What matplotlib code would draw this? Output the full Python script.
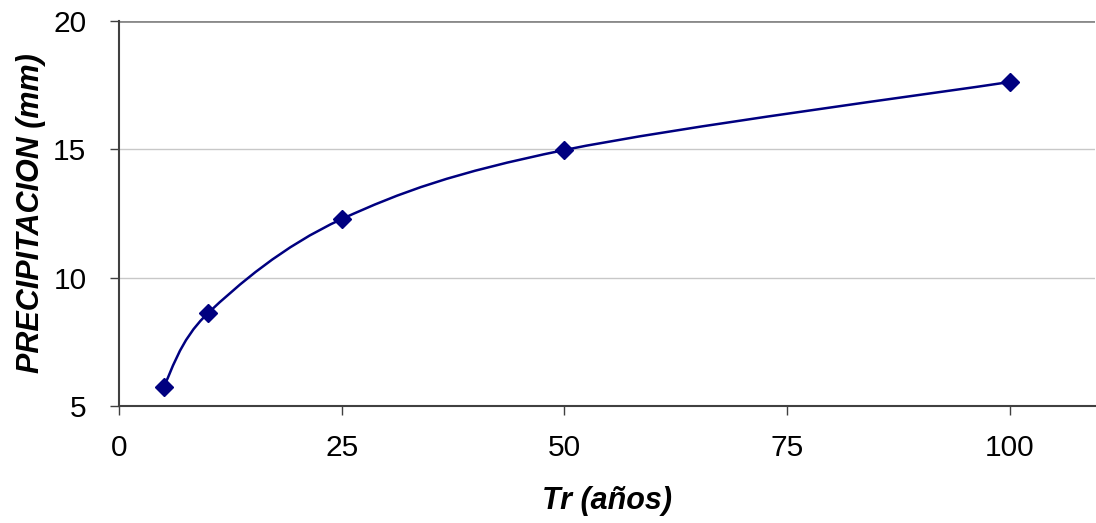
import matplotlib
matplotlib.use("Agg")
import matplotlib.pyplot as plt
from matplotlib.path import Path
import matplotlib.patches as phs

plt.rcParams['font.family'] = ['Liberation Sans', 'DejaVu Sans']

# return period (years) and precipitation (mm)
tr = [5, 10, 25, 50, 100]
precip = [5.75, 8.62, 12.28, 14.97, 17.62]
xticks = [0, 25, 50, 75, 100]
yticks = [5, 10, 15, 20]

navy = "#000080"


def smoothPath(xs, ys):
  # Excel-style smoothed line: cubic bezier segments, control points from neighbours
  n = len(xs)
  verts = [(xs[0], ys[0])]
  codes = [Path.MOVETO]
  for i in range(n - 1):
    x0, y0 = xs[max(i - 1, 0)], ys[max(i - 1, 0)]
    x1, y1 = xs[i], ys[i]
    x2, y2 = xs[i + 1], ys[i + 1]
    x3, y3 = xs[min(i + 2, n - 1)], ys[min(i + 2, n - 1)]
    c1 = (x1 + (x2 - x0) / 6.0, y1 + (y2 - y0) / 6.0)
    c2 = (x2 - (x3 - x1) / 6.0, y2 - (y3 - y1) / 6.0)
    verts += [c1, c2, (x2, y2)]
    codes += [Path.CURVE4] * 3
  return Path(verts, codes)


fig = plt.figure(figsize=(10.96, 5.23), dpi=100)
ax = fig.add_axes([0.1086, 0.2237, 0.8905, 0.7363])

ax.add_patch(phs.PathPatch(smoothPath(tr, precip), fill=False, lw=1.8, color=navy, zorder=3))
ax.plot(tr, precip, ls="none", marker="D", ms=9, color=navy, zorder=4, clip_on=False)

ax.set_xlim(0, 109.6)
ax.set_ylim(5, 20)
ax.set_xticks(xticks)
ax.set_yticks(yticks)
ax.tick_params(axis="both", labelsize=21.5, direction="out", length=6.5, width=1, color="#404040")
ax.tick_params(axis="x", pad=14)
ax.tick_params(axis="y", pad=17)
for y in yticks[1:-1]:
  ax.axhline(y, color="#c8c8c8", lw=1, zorder=1)
ax.axhline(20, color="#8a8a8a", lw=2, zorder=1)

for s in ["top", "right"]:
  ax.spines[s].set_visible(False)
for s in ["left", "bottom"]:
  ax.spines[s].set_color("#404040")
  ax.spines[s].set_linewidth(1.5)

ax.set_xlabel("Tr (años)", fontsize=22, fontweight="bold", fontstyle="italic", labelpad=17)
ax.set_ylabel("PRECIPITACION (mm)", fontsize=22, fontweight="bold", fontstyle="italic", labelpad=5)

fig.savefig("out.png", dpi=100)
